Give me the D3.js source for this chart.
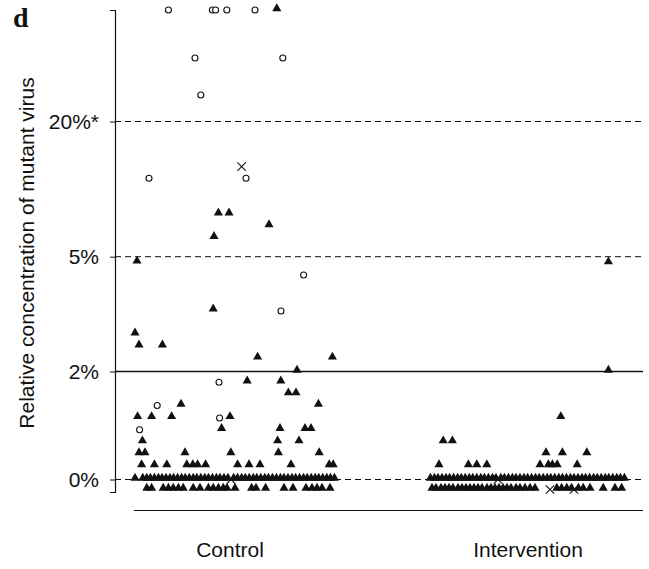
<!DOCTYPE html>
<html>
<head>
<meta charset="utf-8">
<script src="https://cdn.jsdelivr.net/npm/d3@7"></script>
<style>
  body { margin: 0; background: #fff; }
  text { font-family: "Liberation Sans", Arial, sans-serif; fill: #111; }
</style>
</head>
<body>
<script>
// Groups and y tick levels
var groups = ["Control", "Intervention"];
var tickVals = [0, 2, 5, 20];
var tickLabels = ["0%", "2%", "5%", "20%*"];

// Each point: [position within group (patient rank), % mutant virus]
// -0.2 = below detection row, 100 = top row (>20%)
var ctrlCircles = [
  [-15.4, 100], [-4.4, 100], [-3.6, 100], [-0.8, 100], [6.25, 100],
  [-8.75, 65.6], [13.2, 65.6], [-7.3, 39], [-20.25, 13.7], [4, 13.7],
  [18.4, 4.52], [12.75, 3.58], [-2.75, 1.8], [-18.2, 1.37], [-2.6, 1.14],
  [-22.6, 0.92]
];
var ctrlTriangles = [
  [11.7, 100], [-2.9, 9.7], [-0.25, 9.7], [9.75, 8.4], [-4, 7.1],
  [-23.25, 4.85], [-4.2, 3.6], [-23.75, 2.97], [-22.75, 2.66], [-16.9, 2.66],
  [6.9, 2.34], [25.6, 2.34], [16.75, 2.0], [4.3, 1.8], [12.7, 1.8],
  [14.6, 1.58], [16.5, 1.58], [-12.25, 1.37], [22.1, 1.37],
  [-23.1, 1.14], [-19.6, 1.14], [-14.6, 1.14], [0, 1.14],
  [-2.1, 0.92], [12.5, 0.92], [18.75, 0.92], [20.25, 0.92],
  [-21.9, 0.69], [11.9, 0.69], [17.25, 0.69],
  [-22.75, 0.47], [-21.25, 0.47], [-11.25, 0.47], [0.2, 0.47], [12.1, 0.47], [22.3, 0.47],
  [-22.1, 0.25], [-18.9, 0.25], [-15.8, 0.25], [-10.8, 0.25], [-9.3, 0.25], [-8.1, 0.25],
  [-6.1, 0.25], [1.9, 0.25], [4.75, 0.25], [7.5, 0.25], [15.25, 0.25], [24.8, 0.25], [25.8, 0.25]
];
var ctrlBaseline = [
  -23.75, -21.8, -20.8, -19.9, -18.9, -17.9, -17.0, -16.0, -15.0, -14.1, -13.1,
  -12.1, -11.2, -10.2, -9.2, -8.3, -7.3, -6.3, -5.4, -4.4, -3.4, -2.5, -1.5, -0.5,
  0.9, 1.9, 2.9, 3.8, 4.8, 5.8, 6.7, 7.7, 8.7, 9.6, 10.6, 11.6, 12.6, 13.5, 14.5,
  15.5, 16.4, 17.4, 18.4, 19.3, 20.3, 21.3, 22.2, 23.2, 24.2, 25.1, 26.1
];
var ctrlBelow = [
  -20.8, -19.6, -16.7, -15.4, -14.2, -12.9, -11.7, -9.2, -7.5, -5.4, -4.2, -2.9,
  -1.7, -0.75, 1.25, 5.4, 6.5, 8.9, 13.5, 15.75, 19, 20.5, 21.75, 23, 25
];
var ctrlCrosses = [[2.9, 15], [0.25, 0]];

var intTriangles = [
  [20.1, 4.83], [20.1, 2.0], [8.2, 1.14], [-21.2, 0.69], [-18.9, 0.69],
  [4.5, 0.47], [8.6, 0.47], [14.7, 0.47],
  [-22.25, 0.25], [-14.9, 0.25], [-12.8, 0.25], [-10.3, 0.25], [3, 0.25],
  [5.1, 0.25], [6.1, 0.25], [7.3, 0.25], [12.3, 0.25]
];
var intBaseline = [
  -24.4, -23.4, -22.5, -21.5, -20.5, -19.6, -18.6, -17.6, -16.7, -15.7, -14.7,
  -13.8, -12.8, -11.8, -10.9, -9.9, -8.9, -8.0, -6.8, -5.9, -4.9, -3.9, -3.0,
  -2.0, -1.0, -0.1, 0.9, 1.9, 2.8, 3.8, 4.8, 5.7, 6.7, 7.7, 8.6, 9.6, 10.6,
  11.5, 12.5, 13.5, 14.4, 15.4, 16.4, 17.3, 18.3, 19.3, 20.2, 21.2, 22.2, 23.1, 24.1
];
var intBelow = [
  -24, -23, -21.75, -20.75, -19.75, -18.75, -17.5, -16.5, -15.5, -14.5, -13.5,
  -12.5, -11.5, -10.25, -9.25, -8.25, -7.25, -6.25, -5.25, -4.25, -3, -2, -0.75,
  0.5, 1.75, 7.2, 8.4, 9.7, 10.9, 12.6, 13.8, 15.5, 18.8, 21.75, 23.4
];
var intCrosses = [[-7.5, 0], [5.5, -0.2], [11.5, -0.2]];

var W = 649, H = 569;
var axisX = 115, plotRight = 643;
var fontPx = "21px";

var svg = d3.select("body").append("svg")
    .attr("width", W)
    .attr("height", H);

// Scales: group band + patient rank inside the group, piecewise y
var x = d3.scaleBand().domain(groups).range([81, 677]);
var rank = d3.scaleLinear().domain([-25, 25]).range([-100, 100]);
var y = d3.scaleLinear()
    .domain([-0.25, 0, 2, 5, 20, 100])
    .range([492, 479.5, 371.5, 256.7, 121.5, 10]);

function px(g, p) { return x(g) + x.bandwidth() / 2 + rank(p); }

// Reference lines
svg.selectAll("line.ref")
    .data(tickVals)
  .enter().append("line")
    .attr("class", "ref")
    .attr("x1", axisX)
    .attr("x2", plotRight)
    .attr("y1", function(d) { return y(d); })
    .attr("y2", function(d) { return y(d); })
    .style("stroke", "#111")
    .style("stroke-width", function(d) { return d === 2 ? 1.3 : 1; })
    .style("stroke-dasharray", function(d) { return d === 2 ? null : "6,4"; });

// Y axis
var yAxis = d3.axisLeft(y)
    .tickValues(tickVals)
    .tickFormat(function(d, i) { return tickLabels[i]; })
    .tickSize(5)
    .tickSizeOuter(5)
    .tickPadding(11);

var gy = svg.append("g")
    .attr("transform", "translate(" + axisX + ",0)")
    .call(yAxis);
gy.select(".domain").style("stroke", "#111").style("stroke-width", 1.2);
gy.selectAll(".tick line").style("stroke", "#111");
gy.selectAll(".tick text")
    .style("font-family", "'Liberation Sans', Arial, sans-serif")
    .style("font-size", fontPx)
    .style("fill", "#111");

// Bottom line under the groups
svg.append("line")
    .attr("x1", 134).attr("x2", plotRight)
    .attr("y1", 510.5).attr("y2", 510.5)
    .style("stroke", "#111")
    .style("stroke-width", 1.2);

// Group labels
svg.selectAll("text.grp")
    .data(groups)
  .enter().append("text")
    .attr("class", "grp")
    .attr("x", function(d) { return x(d) + x.bandwidth() / 2; })
    .attr("y", 557)
    .attr("text-anchor", "middle")
    .style("font-size", fontPx)
    .text(function(d) { return d; });

// Axis title
svg.append("text")
    .attr("transform", "translate(34,253) rotate(-90)")
    .attr("text-anchor", "middle")
    .style("font-size", fontPx)
    .text("Relative concentration of mutant virus");

// Panel letter
svg.append("text")
    .attr("x", 13).attr("y", 27)
    .style("font-family", "'Liberation Serif', 'Times New Roman', serif")
    .style("font-weight", "bold")
    .style("font-size", "28px")
    .text("d");

// Collect triangles for both groups
function tri(g, arr) { return arr.map(function(d) { return { g: g, p: d[0], v: d[1] }; }); }
function row(g, arr, v) { return arr.map(function(p) { return { g: g, p: p, v: v }; }); }

var triangles = [].concat(
  row("Control", ctrlBelow, -0.2),
  row("Intervention", intBelow, -0.2),
  row("Control", ctrlBaseline, 0),
  row("Intervention", intBaseline, 0),
  tri("Control", ctrlTriangles),
  tri("Intervention", intTriangles)
);

var triSym = d3.symbol().type(d3.symbolTriangle).size(36);

svg.selectAll("path.tri")
    .data(triangles)
  .enter().append("path")
    .attr("class", "tri")
    .attr("d", triSym)
    .attr("transform", function(d) {
      return "translate(" + px(d.g, d.p) + "," + (y(d.v) - 1.5) + ")";
    })
    .style("fill", "#111");

// Open circles
svg.selectAll("circle.open")
    .data(tri("Control", ctrlCircles))
  .enter().append("circle")
    .attr("class", "open")
    .attr("cx", function(d) { return px(d.g, d.p); })
    .attr("cy", function(d) { return y(d.v); })
    .attr("r", 3)
    .style("fill", "#fff")
    .style("stroke", "#111")
    .style("stroke-width", 1.1);

// Crosses
var crosses = [].concat(tri("Control", ctrlCrosses), tri("Intervention", intCrosses));
var crossSym = d3.symbol().type(d3.symbolX).size(48);

svg.selectAll("path.cross")
    .data(crosses)
  .enter().append("path")
    .attr("class", "cross")
    .attr("d", crossSym)
    .attr("transform", function(d) {
      return "translate(" + px(d.g, d.p) + "," + y(d.v) + ")";
    })
    .style("fill", "none")
    .style("stroke", "#111")
    .style("stroke-width", 1.1);
</script>
</body>
</html>
